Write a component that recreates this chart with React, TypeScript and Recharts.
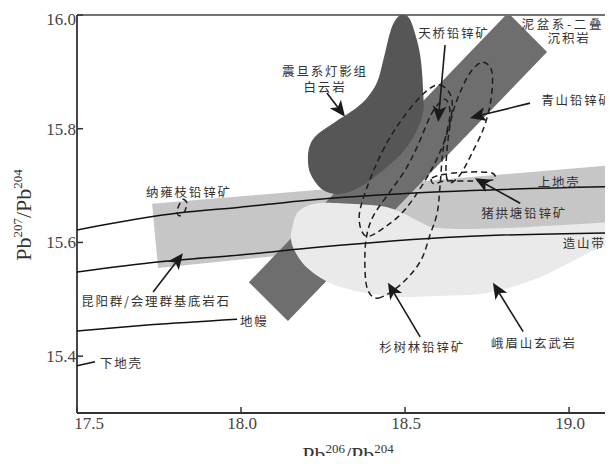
import React from 'react';
import { ScatterChart, Scatter, XAxis, YAxis, ReferenceLine, ReferenceDot } from 'recharts';

// ---------- axis ticks ----------
const xTicks = [17.5, 18.0, 18.5, 19.0];
const yTicks = [15.4, 15.6, 15.8, 16.0];

// ---------- fields (Pb206/Pb204, Pb207/Pb204) ----------
const kunyangBasement: number[][] = [
  [17.729, 15.668], [19.216, 15.740], [19.216, 15.641], [17.747, 15.555],
];
const devonianPermian: number[][] = [
  [18.024, 15.530], [18.143, 15.462], [18.933, 15.935], [18.814, 16.004],
];
const emeishanBasalt: number[][] = [
  [18.156, 15.625], [18.174, 15.654], [18.226, 15.668], [18.302, 15.669], [18.424, 15.664],
  [18.485, 15.654], [18.546, 15.636], [18.607, 15.625], [18.790, 15.625], [19.134, 15.636],
  [19.216, 15.638], [19.216, 15.608], [19.134, 15.599], [19.064, 15.583], [18.994, 15.562],
  [18.890, 15.534], [18.750, 15.511], [18.607, 15.506], [18.485, 15.504], [18.384, 15.511],
  [18.302, 15.522], [18.247, 15.536], [18.195, 15.559], [18.162, 15.587], [18.152, 15.608],
];
const dengyingDolomite: number[][] = [
  [18.494, 16.002], [18.512, 15.995], [18.527, 15.974], [18.546, 15.930], [18.555, 15.868],
  [18.552, 15.821], [18.506, 15.768], [18.433, 15.727], [18.363, 15.698], [18.302, 15.685],
  [18.250, 15.692], [18.213, 15.719], [18.204, 15.745], [18.210, 15.771], [18.235, 15.791],
  [18.287, 15.812], [18.338, 15.831], [18.381, 15.852], [18.415, 15.882], [18.436, 15.926],
  [18.457, 15.974], [18.476, 15.995],
];

// ---------- ore deposits (dashed outlines) ----------
const tianqiao: number[][] = [
  [18.607, 15.877], [18.643, 15.851], [18.631, 15.798], [18.585, 15.733], [18.506, 15.662],
  [18.439, 15.627], [18.381, 15.611], [18.360, 15.643], [18.381, 15.692], [18.430, 15.759],
  [18.485, 15.812], [18.555, 15.861],
];
const shanshulin: number[][] = [
  [18.418, 15.502], [18.485, 15.525], [18.546, 15.566], [18.576, 15.613], [18.598, 15.652],
  [18.607, 15.701], [18.616, 15.763], [18.637, 15.824], [18.625, 15.851], [18.601, 15.843],
  [18.576, 15.821], [18.537, 15.768], [18.500, 15.727], [18.454, 15.689], [18.402, 15.645],
  [18.381, 15.604], [18.378, 15.552], [18.387, 15.516],
];
const qingshan: number[][] = [
  [18.738, 15.917], [18.765, 15.900], [18.762, 15.851], [18.741, 15.803], [18.704, 15.757],
  [18.668, 15.719], [18.637, 15.705], [18.625, 15.724], [18.631, 15.780], [18.646, 15.829],
  [18.674, 15.872], [18.704, 15.903],
];
const zhugongtang: number[][] = [
  [18.582, 15.713], [18.622, 15.720], [18.698, 15.724], [18.765, 15.722], [18.768, 15.710],
  [18.698, 15.708], [18.622, 15.708], [18.588, 15.703],
];
const nayongzhi: number[][] = [
  [17.823, 15.676], [17.835, 15.669], [17.826, 15.652], [17.811, 15.647], [17.805, 15.655],
  [17.814, 15.669],
];

// ---------- evolution curves ----------
const upperCrust: number[][] = [
  [17.5, 15.622], [17.814, 15.652], [17.997, 15.662], [18.180, 15.673], [18.607, 15.689], [19.134, 15.698],
];
const orogene: number[][] = [
  [17.5, 15.548], [17.753, 15.566], [17.997, 15.578], [18.241, 15.592], [18.668, 15.610], [19.134, 15.617],
];
const mantle: number[][] = [[17.5, 15.444], [17.723, 15.455], [17.988, 15.465]];
const lowerCrust: number[][] = [[17.5, 15.383], [17.555, 15.390]];

// ---------- arrows: [tail, tip] ----------
const arrows: number[][][] = [
  [[18.262, 15.863], [18.317, 15.821]],
  [[18.622, 15.947], [18.601, 15.812]],
  [[18.881, 15.845], [18.698, 15.819]],
  [[18.851, 15.669], [18.713, 15.713]],
  [[17.732, 15.513], [17.823, 15.581]],
  [[18.546, 15.434], [18.448, 15.529]],
  [[18.860, 15.443], [18.768, 15.529]],
];

// ---------- annotation texts ----------
const labelTexts = [
  '泥盆系-二叠系', '沉积岩', '天桥铅锌矿', '震旦系灯影组', '白云岩', '青山铅锌矿', '纳雍枝铅锌矿',
  '上地壳', '猪拱塘铅锌矿', '造山带', '昆阳群/会理群基底岩石', '地幔', '下地壳', '杉树林铅锌矿', '峨眉山玄武岩',
];
const labelX = [19.004, 19.0, 18.649, 18.256, 18.256, 19.024, 17.841, 18.970, 18.863, 19.046, 17.741, 17.997, 17.570, 18.552, 18.893];
const labelY = [15.984, 15.960, 15.968, 15.902, 15.874, 15.851, 15.689, 15.706, 15.652, 15.599, 15.497, 15.462, 15.388, 15.416, 15.423];
const labelStart = ['地幔', '下地壳'];

const toPts = (a: number[][]) => a.map(([x, y]) => ({ x, y }));

// closed Catmull-Rom style curve factory (smooth closed outlines)
function smoothClosed(context: any) {
  let pts: number[][] = [];
  return {
    areaStart() {},
    areaEnd() {},
    lineStart() { pts = []; },
    point(x: number, y: number) { pts.push([+x, +y]); },
    lineEnd() {
      const n = pts.length;
      if (!n) return;
      const t = 1 / 6;
      context.moveTo(pts[0][0], pts[0][1]);
      for (let i = 0; i < n; i++) {
        const p0 = pts[(i - 1 + n) % n];
        const p1 = pts[i];
        const p2 = pts[(i + 1) % n];
        const p3 = pts[(i + 2) % n];
        context.bezierCurveTo(
          p1[0] + (p2[0] - p0[0]) * t, p1[1] + (p2[1] - p0[1]) * t,
          p2[0] - (p3[0] - p1[0]) * t, p2[1] - (p3[1] - p1[1]) * t,
          p2[0], p2[1],
        );
      }
      context.closePath();
    },
  };
}

const noShape = () => <g />;

const PLOT_LEFT = 77;
const PLOT_BOTTOM = 413;
const SERIF = '"Liberation Serif", "Times New Roman", serif';
const CJK = '"Noto Sans CJK SC", sans-serif';

function arrowLine(p: any) {
  const pts = p.points;
  if (!pts || pts.length < 2) return <g />;
  const a = pts[0];
  const b = pts[1];
  const dx = b.x - a.x;
  const dy = b.y - a.y;
  const len = Math.hypot(dx, dy) || 1;
  const ux = dx / len;
  const uy = dy / len;
  const L = 16;
  const W = 7;
  const bx = b.x - ux * L;
  const by = b.y - uy * L;
  const nx = -uy;
  const ny = ux;
  const mx = b.x - ux * (L - 4);
  const my = b.y - uy * (L - 4);
  return (
    <g>
      <line x1={a.x} y1={a.y} x2={mx} y2={my} stroke="#1a1a1a" strokeWidth={1.6} />
      <polygon
        points={`${b.x},${b.y} ${bx + nx * W},${by + ny * W} ${mx},${my} ${bx - nx * W},${by - ny * W}`}
        fill="#1a1a1a"
      />
    </g>
  );
}

const XTick = (props: any) => {
  const { x, payload } = props;
  const v = payload.value as number;
  return (
    <g>
      <line x1={x} x2={x} y1={PLOT_BOTTOM} y2={PLOT_BOTTOM - 6} stroke="#333" strokeWidth={1.5} />
      <text x={x + (v === 17.5 ? 12 : 1)} y={429} textAnchor="middle" fontFamily={SERIF} fontSize={17} fill="#444">
        {v.toFixed(1)}
      </text>
    </g>
  );
};

const YTick = (props: any) => {
  const { y, payload } = props;
  const v = payload.value as number;
  return (
    <g>
      <line x1={PLOT_LEFT} x2={PLOT_LEFT + 6} y1={y} y2={y} stroke="#333" strokeWidth={1.5} />
      <text x={PLOT_LEFT - 1} y={y + (v === 16 ? 4 : 0)} dy={6} textAnchor="end" fontFamily={SERIF} fontSize={17} fill="#444">
        {v.toFixed(1)}
      </text>
    </g>
  );
};

const YTitle = () => (
  <text
    x={31}
    y={215}
    transform="rotate(-90 31 215)"
    textAnchor="middle"
    fontFamily={SERIF}
    fontSize={22}
    fill="#333"
  >
    Pb<tspan fontSize={13} dy={-9}>207</tspan><tspan dy={9}>/Pb</tspan><tspan fontSize={13} dy={-9}>204</tspan>
  </text>
);

const XTitle = () => (
  <text x={348} y={462} textAnchor="middle" fontFamily={SERIF} fontSize={22} fill="#333">
    Pb<tspan fontSize={13} dy={-9}>206</tspan><tspan dy={9}>/Pb</tspan><tspan fontSize={13} dy={-9}>204</tspan>
  </text>
);

const filled = (color: string) => ({ fill: color, stroke: 'none' });
const dashed = { fill: 'none', stroke: '#1e1e1e', strokeWidth: 1.5, strokeDasharray: '6 4' };
const solid = { fill: 'none', stroke: '#111', strokeWidth: 1.5 };

export default function App() {
  return (
    <div style={{ width: 613, height: 464, marginTop: -8, marginBottom: -8, marginLeft: -8, position: 'relative' }}>
      <ScatterChart width={613} height={464} margin={{ top: 15, right: 0, bottom: 21, left: 17 }}>
        <XAxis
          type="number"
          dataKey="x"
          domain={[17.5, 19.134]}
          allowDataOverflow
          ticks={xTicks}
          tickLine={false}
          axisLine={{ stroke: '#333', strokeWidth: 1.8 }}
          tick={<XTick />}
          height={30}
          label={{ content: () => <XTitle /> }}
        />
        <YAxis
          type="number"
          dataKey="y"
          domain={[15.3, 16.0]}
          allowDataOverflow
          ticks={yTicks}
          tickLine={false}
          axisLine={{ stroke: '#333', strokeWidth: 1.8 }}
          tick={<YTick />}
          width={60}
          label={{ content: () => <YTitle /> }}
        />
        <ReferenceLine y={16.0} stroke="#444" strokeWidth={1.6} />

        <Scatter data={toPts(kunyangBasement)} isAnimationActive={false} shape={noShape} line={filled('#c6c6c6')} lineJointType="linearClosed" />
        <Scatter data={toPts(devonianPermian)} isAnimationActive={false} shape={noShape} line={filled('#6e6e6e')} lineJointType="linearClosed" />
        <Scatter data={toPts(emeishanBasalt)} isAnimationActive={false} shape={noShape} line={filled('#eaeaea')} lineJointType={smoothClosed as any} />
        <Scatter data={toPts(dengyingDolomite)} isAnimationActive={false} shape={noShape} line={filled('#565656')} lineJointType={smoothClosed as any} />

        <Scatter data={toPts(upperCrust)} isAnimationActive={false} shape={noShape} line={solid} lineJointType="monotoneX" />
        <Scatter data={toPts(orogene)} isAnimationActive={false} shape={noShape} line={solid} lineJointType="monotoneX" />
        <Scatter data={toPts(mantle)} isAnimationActive={false} shape={noShape} line={solid} lineJointType="monotoneX" />
        <Scatter data={toPts(lowerCrust)} isAnimationActive={false} shape={noShape} line={solid} lineJointType="linear" />

        <Scatter data={toPts(tianqiao)} isAnimationActive={false} shape={noShape} line={dashed} lineJointType={smoothClosed as any} />
        <Scatter data={toPts(shanshulin)} isAnimationActive={false} shape={noShape} line={dashed} lineJointType={smoothClosed as any} />
        <Scatter data={toPts(qingshan)} isAnimationActive={false} shape={noShape} line={dashed} lineJointType={smoothClosed as any} />
        <Scatter data={toPts(zhugongtang)} isAnimationActive={false} shape={noShape} line={dashed} lineJointType={smoothClosed as any} />
        <Scatter data={toPts(nayongzhi)} isAnimationActive={false} shape={noShape} line={dashed} lineJointType={smoothClosed as any} />

        {arrows.map((a, i) => (
          <Scatter key={'ar' + i} data={toPts(a)} isAnimationActive={false} shape={noShape} line={arrowLine} />
        ))}

        {labelTexts.map((t, i) => (
          <ReferenceDot
            key={'lb' + i}
            x={labelX[i]}
            y={labelY[i]}
            r={0}
            ifOverflow="visible"
            shape={(p: any) => (
              <text
                x={p.cx}
                y={p.cy}
                dy={5}
                textAnchor={labelStart.includes(t) ? 'start' : 'middle'}
                fontFamily={CJK}
                fontSize={12.5}
                letterSpacing={i === 0 ? 2.6 : 1.8}
                fill="#333"
              >
                {t}
              </text>
            )}
          />
        ))}
      </ScatterChart>
    </div>
  );
}
